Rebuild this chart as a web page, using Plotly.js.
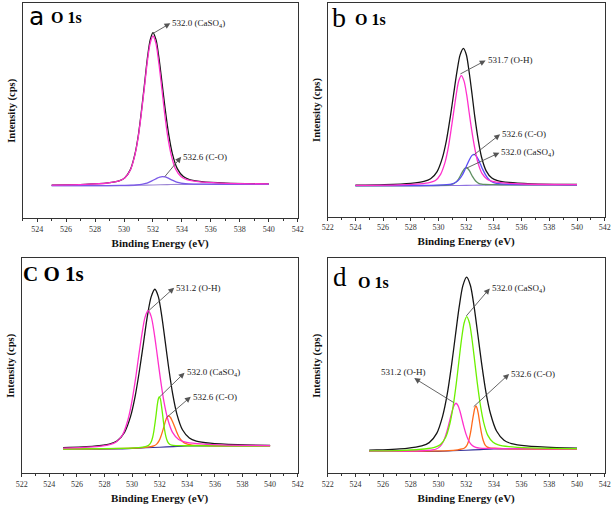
<!DOCTYPE html>
<html>
<head>
<meta charset="utf-8">
<script src="https://cdn.plot.ly/plotly-3.0.1.min.js"></script>
<style>html,body{margin:0;padding:0;background:#fff;}#chart{width:614px;height:510px;}</style>
</head>
<body>
<div id="chart"></div>
<script>
// ---------- Panel a : O 1s ----------
const a_bg_x = [525, 530, 531, 532, 533, 534, 540];
const a_bg_y = [15.2, 15.2, 15.35, 15.5, 15.65, 15.8, 15.8];
const a_black_x = [525, 527.32, 528.88, 529.66, 530.05, 530.44, 530.75, 530.99, 531.22, 531.42, 531.61, 531.81, 532.0, 532.21, 532.42, 532.63, 532.84, 533.09, 533.34, 533.68, 534.10, 534.52, 535.36, 537.04, 540];
const a_black_y = [15.46, 15.77, 16.45, 17.43, 18.80, 22.63, 29.70, 38.63, 50.83, 62.63, 74.19, 83.02, 86.4, 83.08, 74.31, 62.81, 51.08, 38.94, 30.09, 23.11, 19.39, 18.03, 17.05, 16.37, 16.02];
const a_caso4_x = [525, 527.32, 528.88, 529.66, 530.05, 530.44, 530.75, 530.99, 531.22, 531.42, 531.61, 531.81, 532.0, 532.20, 532.39, 532.59, 532.78, 533.01, 533.25, 533.56, 533.95, 534.34, 535.12, 536.68, 540];
const a_caso4_y = [15.46, 15.76, 16.43, 17.38, 18.72, 22.46, 29.38, 38.11, 50.03, 61.56, 72.86, 81.49, 84.8, 81.55, 72.98, 61.74, 50.27, 38.41, 29.76, 22.92, 19.30, 17.98, 17.03, 16.36, 15.99];
const a_co_x = [525, 528.33, 529.77, 530.49, 530.85, 531.21, 531.50, 531.71, 531.93, 532.11, 532.29, 532.47, 532.65, 532.83, 533.01, 533.19, 533.37, 533.59, 533.80, 534.09, 534.45, 534.81, 535.53, 536.97, 540];
const a_co_y = [15.2, 15.23, 15.27, 15.39, 15.52, 15.77, 16.2, 16.71, 17.39, 18.05, 18.69, 19.19, 19.4, 19.24, 18.8, 18.21, 17.61, 16.99, 16.54, 16.19, 15.99, 15.92, 15.87, 15.83, 15.81];

// ---------- Panel b ----------
const b_bg_x = [524, 530, 531, 532, 533, 534, 540];
const b_bg_y = [14.5, 14.5, 14.6, 14.7, 14.8, 14.9, 14.9];
const b_black_x = [524, 526.1, 528.0, 528.95, 529.43, 529.9, 530.28, 530.57, 530.85, 531.09, 531.33, 531.56, 531.8, 532.01, 532.21, 532.42, 532.62, 532.87, 533.11, 533.44, 533.85, 534.26, 535.08, 536.72, 540];
const b_black_y = [14.78, 15.02, 15.64, 16.52, 17.75, 21.16, 27.56, 35.64, 46.69, 57.37, 67.83, 75.82, 78.88, 75.86, 67.92, 57.5, 46.86, 35.87, 27.84, 21.5, 18.14, 16.92, 16.04, 15.42, 15.09];
const b_oh_x = [524, 527.15, 528.65, 529.4, 529.78, 530.15, 530.45, 530.68, 530.9, 531.09, 531.28, 531.46, 531.65, 531.84, 532.03, 532.21, 532.4, 532.63, 532.85, 533.15, 533.53, 533.9, 534.65, 536.15, 540];
const b_oh_y = [14.65, 14.92, 15.41, 16.11, 17.0, 19.86, 24.98, 31.45, 40.29, 48.84, 57.22, 63.62, 66.07, 63.65, 57.29, 48.95, 40.44, 31.64, 25.22, 20.16, 17.45, 16.5, 15.81, 15.32, 15.02];
const b_co_x = [524, 528.65, 529.95, 530.6, 530.93, 531.25, 531.51, 531.71, 531.9, 532.06, 532.23, 532.39, 532.55, 532.71, 532.88, 533.04, 533.2, 533.4, 533.59, 533.85, 534.18, 534.5, 535.15, 536.45, 540];
const b_co_y = [14.53, 14.62, 14.76, 15.01, 15.32, 16.13, 17.58, 19.42, 21.92, 24.33, 26.69, 28.51, 29.21, 28.54, 26.76, 24.42, 22.05, 19.59, 17.79, 16.39, 15.63, 15.35, 15.16, 15.02, 14.93];
const b_caso4_x = [524, 529.3, 530.2, 530.65, 530.88, 531.1, 531.28, 531.42, 531.55, 531.66, 531.78, 531.89, 532.0, 532.11, 532.23, 532.34, 532.45, 532.59, 532.72, 532.9, 533.13, 533.35, 533.8, 534.7, 540];
const b_caso4_y = [14.51, 14.57, 14.67, 14.83, 15.01, 15.47, 16.31, 17.37, 18.81, 20.2, 21.56, 22.6, 23.0, 22.62, 21.6, 20.26, 18.9, 17.49, 16.45, 15.65, 15.23, 15.1, 15.03, 14.97, 14.91];

// ---------- Panel c ----------
const c_bg_x = [525, 529, 530, 531, 532, 533, 534, 540];
const c_bg_y = [11.3, 11.3, 11.58, 11.86, 12.14, 12.42, 12.7, 12.7];
const c_black_x = [525, 527.25, 528.35, 528.9, 529.45, 529.89, 530.22, 530.55, 530.83, 531.1, 531.38, 531.65, 531.9, 532.15, 532.4, 532.65, 532.95, 533.25, 533.65, 534.15, 534.65, 535.65, 537.65, 540];
const c_black_y = [11.89, 12.6, 13.61, 15.02, 19.07, 26.48, 35.8, 48.51, 60.8, 72.84, 82.05, 85.6, 82.19, 73.13, 61.24, 49.1, 36.57, 27.42, 20.24, 16.42, 15.01, 14.0, 13.3, 13.01];
const c_oh_x = [525, 525.59, 527.45, 528.38, 528.85, 529.31, 529.68, 529.96, 530.24, 530.47, 530.71, 530.94, 531.17, 531.39, 531.61, 531.83, 532.05, 532.31, 532.58, 532.93, 533.37, 533.81, 534.69, 536.45, 540];
const c_oh_y = [11.73, 11.82, 12.43, 13.3, 14.53, 17.91, 24.44, 32.52, 43.55, 54.2, 64.64, 72.62, 75.71, 72.75, 64.89, 54.58, 44.05, 33.18, 25.25, 19.02, 15.75, 14.65, 13.83, 13.22, 12.89];
const c_caso4_x = [525, 530.17, 530.77, 531.07, 531.22, 531.37, 531.49, 531.58, 531.67, 531.75, 531.82, 531.9, 531.97, 532.05, 532.12, 532.2, 532.27, 532.36, 532.45, 532.57, 532.72, 532.87, 533.17, 533.77, 540];
const c_caso4_y = [11.31, 11.82, 12.22, 12.62, 13.11, 14.41, 16.78, 19.76, 23.84, 27.77, 31.62, 34.57, 35.7, 34.61, 31.7, 27.9, 24.01, 19.98, 17.05, 14.75, 13.53, 13.12, 12.89, 12.82, 12.71];
const c_co_x = [525, 530.1, 530.94, 531.36, 531.57, 531.78, 531.95, 532.07, 532.2, 532.31, 532.41, 532.52, 532.62, 532.77, 532.91, 533.06, 533.2, 533.37, 533.55, 533.78, 534.07, 534.36, 534.94, 536.1, 540];
const c_co_y = [11.32, 11.73, 12.09, 12.41, 12.75, 13.57, 15.05, 16.89, 19.4, 21.81, 24.17, 26.0, 26.7, 26.07, 24.31, 22.02, 19.68, 17.25, 15.49, 14.13, 13.43, 13.15, 12.95, 12.82, 12.74];

// ---------- Panel d ----------
const d_bg_x = [525, 530, 531, 532, 533, 534, 540];
const d_bg_y = [10.2, 10.2, 10.48, 10.75, 11.03, 11.3, 11.3];
const d_black_x = [525, 525.55, 527.71, 528.79, 529.33, 529.87, 530.3, 530.63, 530.95, 531.22, 531.49, 531.76, 532.03, 532.3, 532.57, 532.84, 533.11, 533.43, 533.76, 534.19, 534.73, 535.27, 536.35, 538.51, 540];
const d_black_y = [10.76, 10.85, 11.62, 12.73, 14.27, 18.55, 26.61, 36.79, 50.68, 64.11, 77.26, 87.31, 91.2, 87.46, 77.56, 64.55, 51.28, 37.56, 27.56, 19.65, 15.37, 13.83, 12.72, 11.95, 11.73];
const d_caso4_x = [525, 527.48, 529.0, 529.76, 530.14, 530.52, 530.82, 531.05, 531.28, 531.47, 531.66, 531.85, 532.04, 532.23, 532.42, 532.61, 532.8, 533.03, 533.26, 533.56, 533.94, 534.32, 535.08, 536.6, 540];
const d_caso4_y = [10.42, 10.7, 11.3, 12.15, 13.38, 16.79, 23.04, 30.9, 41.62, 51.99, 62.15, 69.91, 72.9, 70.01, 62.36, 52.31, 42.04, 31.44, 23.71, 17.63, 14.42, 13.25, 12.4, 11.8, 11.47];
const d_oh_x = [525, 527.84, 528.98, 529.55, 529.84, 530.12, 530.35, 530.52, 530.69, 530.83, 530.98, 531.12, 531.26, 531.4, 531.55, 531.69, 531.83, 532.0, 532.17, 532.4, 532.69, 532.97, 533.54, 534.68, 540];
const d_oh_y = [10.25, 10.38, 10.59, 10.89, 11.31, 12.52, 14.77, 17.57, 21.41, 25.1, 28.72, 31.5, 32.58, 31.58, 28.88, 25.33, 21.72, 17.98, 15.27, 13.15, 12.05, 11.71, 11.56, 11.48, 11.33];
const d_co_x = [525, 530.72, 531.38, 531.71, 531.88, 532.04, 532.17, 532.27, 532.37, 532.45, 532.54, 532.62, 532.7, 532.78, 532.87, 532.95, 533.03, 533.13, 533.23, 533.36, 533.53, 533.69, 534.02, 534.68, 540];
const d_co_y = [10.21, 10.56, 10.94, 11.31, 11.75, 12.87, 14.93, 17.51, 21.03, 24.43, 27.77, 30.32, 31.3, 30.36, 27.86, 24.57, 21.21, 17.75, 15.22, 13.23, 12.2, 11.85, 11.66, 11.46, 11.31];

// ---------- text ----------
const xTitle = 'Binding Energy (eV)';
const yTitle = 'Intensity (cps)';
const lblCaSO4 = '532.0 (CaSO<sub>4</sub>)';
const lblCO = '532.6 (C-O)';
const lblOH_b = '531.7 (O-H)';
const lblOH = '531.2 (O-H)';

const SERIF = '"Liberation Serif", "Times New Roman", serif';
const C = {black:'#151515', pink:'#ff30cc', violet:'#7a58e8', blue:'#5b4cf5', olive:'#5e8f60', lime:'#6cf000', orange:'#ff6a1c', bgA:'#9c86d4', bgB:'#8f72e0', navy:'#35309a'};

function tr(x, y, color, ax, w) {
  return {x: x, y: y, type: 'scatter', mode: 'lines', xaxis: ax[0], yaxis: ax[1],
          line: {color: color, width: w || 1.3, shape: 'spline', smoothing: 0.8},
          hoverinfo: 'skip', showlegend: false};
}
const A = ['x','y'], B = ['x2','y2'], Cc = ['x3','y3'], D = ['x4','y4'];

const data = [
  tr(a_bg_x, a_bg_y, C.bgA, A, 1.1), tr(a_black_x, a_black_y, C.black, A), tr(a_co_x, a_co_y, C.violet, A), tr(a_caso4_x, a_caso4_y, C.pink, A),
  tr(b_bg_x, b_bg_y, C.bgB, B, 1.1), tr(b_black_x, b_black_y, C.black, B), tr(b_caso4_x, b_caso4_y, C.olive, B), tr(b_co_x, b_co_y, C.blue, B), tr(b_oh_x, b_oh_y, C.pink, B),
  tr(c_bg_x, c_bg_y, C.navy, Cc, 1.1), tr(c_black_x, c_black_y, C.black, Cc), tr(c_co_x, c_co_y, C.orange, Cc), tr(c_caso4_x, c_caso4_y, C.lime, Cc), tr(c_oh_x, c_oh_y, C.pink, Cc),
  tr(d_bg_x, d_bg_y, C.navy, D, 1.1), tr(d_black_x, d_black_y, C.black, D), tr(d_co_x, d_co_y, C.orange, D), tr(d_oh_x, d_oh_y, C.pink, D), tr(d_caso4_x, d_caso4_y, C.lime, D)
];

const W = 614, H = 510;
function dx(p0, p1) { return [p0 / W, p1 / W]; }
function dy(top, bot) { return [1 - bot / H, 1 - top / H]; }

function xax(dom, range, anchor) {
  return {domain: dom, range: range, anchor: anchor, tick0: 522, dtick: 2,
    ticks: 'outside', ticklen: 3, tickwidth: 1, tickcolor: '#333',
    minor: {dtick: 1, tick0: 522, ticks: 'outside', ticklen: 2, tickwidth: 1, tickcolor: '#333'},
    showline: true, mirror: true, linecolor: '#333', linewidth: 1,
    showgrid: false, zeroline: false, fixedrange: true,
    tickfont: {family: SERIF, size: 8, color: '#333'},
    title: {text: xTitle, font: {family: SERIF, size: 11, weight: 'bold', color: '#111'}, standoff: 6}};
}
function yax(dom, anchor) {
  return {domain: dom, range: [0, 100], anchor: anchor, showticklabels: false, ticks: '',
    showline: true, mirror: true, linecolor: '#333', linewidth: 1,
    showgrid: false, zeroline: false, fixedrange: true,
    title: {text: yTitle, font: {family: SERIF, size: 10.5, weight: 'bold', color: '#111'}, standoff: 4}};
}

// peak label: arrow from the peak (no head) to the label, head at the label end
function peakLabel(ax, peak, textPos, text, anchor) {
  return {xref: ax[0], yref: ax[1], axref: ax[0], ayref: ax[1],
          x: peak[0], y: peak[1], ax: textPos[0], ay: textPos[1],
          text: text, showarrow: true, arrowside: 'start', startarrowhead: 2, startarrowsize: 1.3,
          arrowwidth: 0.9, arrowcolor: '#555',
          xanchor: anchor || 'left', yanchor: 'middle',
          font: {family: SERIF, size: 9, color: '#222'}};
}
function ptxt(x, y, text, size, bold, fam, yanch) {
  return {xref: 'paper', yref: 'paper', x: x / W, y: 1 - y / H, text: bold ? '<b>' + text + '</b>' : text,
          showarrow: false, xanchor: 'left', yanchor: yanch || 'middle',
          font: {family: fam || SERIF, size: size, color: '#000'}};
}

const annotations = [
  peakLabel(A, [532.01, 86.0], [533.2, 90.7], lblCaSO4),
  peakLabel(A, [532.82, 19.4], [533.95, 28.6], lblCO),
  peakLabel(B, [531.58, 66.9], [533.4, 73.2], lblOH_b),
  peakLabel(B, [532.54, 28.9], [534.45, 38.6], lblCO),
  peakLabel(B, [532.01, 22.7], [534.4, 30.0], lblCaSO4),
  peakLabel(Cc, [531.18, 75.5], [533.05, 86.3], lblOH),
  peakLabel(Cc, [532.02, 35.7], [533.8, 46.8], lblCaSO4),
  peakLabel(Cc, [532.51, 26.0], [534.25, 35.6], lblCO),
  peakLabel(D, [532.01, 73.2], [533.7, 86.0], lblCaSO4),
  peakLabel(D, [531.1, 32.9], [527.49, 47.3], lblOH, 'center'),
  peakLabel(D, [532.54, 31.0], [535.1, 46.2], lblCO),
  ptxt(27, 0, 'a', 25, false, '"DejaVu Sans", "Liberation Sans", sans-serif', 'top'), ptxt(49, 18, 'O 1s', 16, true),
  ptxt(330, 0, 'b', 28, false, SERIF, 'top'), ptxt(353, 20, 'O 1s', 16, true),
  ptxt(21, 274, 'C O 1s', 21, true),
  ptxt(331, 277, 'd', 27, false), ptxt(356, 282, 'O 1s', 16, true)
];

const layout = {
  width: W, height: H, margin: {l: 0, r: 0, t: 0, b: 0},
  paper_bgcolor: '#fff', plot_bgcolor: '#fff', showlegend: false,
  xaxis: xax(dx(22.7, 297.7), [523, 542], 'y'),
  yaxis: yax(dy(3.3, 218.3), 'x'),
  xaxis2: xax(dx(327.7, 604.7), [522, 542], 'y2'),
  yaxis2: yax(dy(3.3, 216.7), 'x2'),
  xaxis3: xax(dx(21.7, 297.7), [522, 542], 'y3'),
  yaxis3: yax(dy(258.3, 473.3), 'x3'),
  xaxis4: xax(dx(327.7, 604.7), [522, 542], 'y4'),
  yaxis4: yax(dy(258.3, 473.3), 'x4'),
  annotations: annotations
};

Plotly.newPlot('chart', data, layout, {displayModeBar: false, staticPlot: true});
</script>
</body>
</html>
